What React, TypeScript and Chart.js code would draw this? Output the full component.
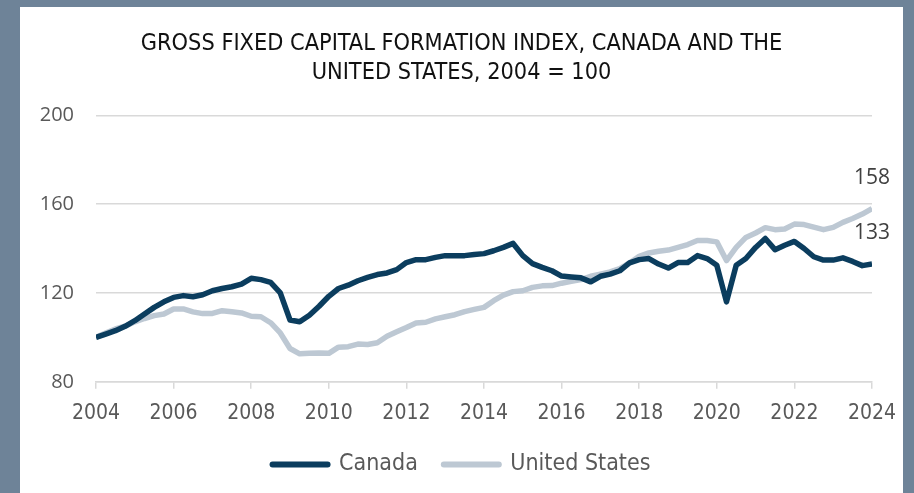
import React, { useEffect, useRef } from "react";
import { Chart, registerables } from "chart.js";

Chart.register(...registerables);

const START_YEAR = 2004;
const END_YEAR = 2024;

const titleLines = [
  "GROSS FIXED CAPITAL FORMATION INDEX, CANADA AND THE",
  "UNITED STATES, 2004 = 100",
];

const seriesNames = ["Canada", "United States"];

// Quarterly index values, 2004Q1 .. 2024Q1
const canada = [
  100, 101.5, 103, 105,
  107.5, 110.5, 113.5, 116,
  118, 118.8, 118.3, 119.2,
  121, 122, 122.8, 124,
  126.6, 126, 124.8, 120,
  107.8, 107, 110, 114,
  118.5, 122, 123.5, 125.5,
  127, 128.3, 129, 130.5,
  133.7, 135, 135, 136,
  136.8, 136.8, 136.8, 137.3,
  137.7, 139, 140.5, 142.3,
  136.8, 133.2, 131.5, 130,
  127.6, 127.2, 126.8, 125,
  127.5, 128.5, 130, 133.5,
  135, 135.5, 133, 131.2,
  133.7, 133.7, 136.8, 135.5,
  132.5, 116, 132.5, 135.5,
  140.5, 144.5, 139.5, 141.5,
  143.2, 140, 136.3, 134.8,
  134.8, 135.8, 134.2, 132.3,
  133,
];

const unitedStates = [
  100, 102, 103.8, 105,
  107, 108.5, 109.8, 110.5,
  112.8, 112.8, 111.5, 110.7,
  110.8, 112, 111.5, 111,
  109.5, 109.3, 106.6, 102,
  95, 92.6, 92.8, 93,
  92.8, 95.6, 95.8, 97,
  96.8, 97.6, 100.5, 102.5,
  104.4, 106.5, 106.8, 108.3,
  109.3, 110.2, 111.6, 112.6,
  113.5, 116.5, 119, 120.6,
  121, 122.5, 123.2, 123.3,
  124.4, 125.2, 126, 127.5,
  128.5, 129.5, 131, 133.5,
  136.5, 138, 138.8, 139.3,
  140.5, 141.8, 143.6, 143.6,
  143, 134.6, 140.5, 145,
  147, 149.4, 148.5, 148.8,
  151, 150.8, 149.6, 148.5,
  149.5, 151.8, 153.5, 155.5,
  158,
];

const yTicks = [80, 120, 160, 200];
const xTickStep = 2;

const seriesColors = ["#0B3D5E", "#BDC8D3"];

const COND = "'DejaVu Sans Condensed', 'Liberation Sans', Arial, sans-serif";

const toPoints = (vals: number[]) =>
  vals.map((v, i) => ({ x: START_YEAR + i / 4, y: v }));

const endLabelPlugin = {
  id: "endLabels",
  afterDatasetsDraw(chart: any) {
    const ctx = chart.ctx;
    ctx.save();
    ctx.font = "21px 'Open Sans', 'Liberation Sans', Arial, sans-serif";
    ctx.fillStyle = "#404040";
    ctx.textAlign = "center";
    ctx.textBaseline = "middle";
    chart.data.datasets.forEach((ds: any, i: number) => {
      const meta = chart.getDatasetMeta(i);
      const pt = meta.data[meta.data.length - 1];
      const val = ds.data[ds.data.length - 1].y;
      ctx.fillText(String(Math.round(val)), pt.x, pt.y - 31);
    });
    ctx.restore();
  },
};

export default function App() {
  const ref = useRef<HTMLCanvasElement | null>(null);

  useEffect(() => {
    if (!ref.current) return;
    const chart = new Chart(ref.current, {
      type: "line",
      data: {
        datasets: [
          {
            label: seriesNames[0],
            data: toPoints(canada),
            borderColor: seriesColors[0],
            backgroundColor: seriesColors[0],
            borderWidth: 5.5,
            pointRadius: 0,
            tension: 0,
            borderJoinStyle: "round",
          },
          {
            label: seriesNames[1],
            data: toPoints(unitedStates),
            borderColor: seriesColors[1],
            backgroundColor: seriesColors[1],
            borderWidth: 5.5,
            pointRadius: 0,
            tension: 0,
            borderJoinStyle: "round",
            order: 1,
          },
        ],
      },
      plugins: [endLabelPlugin],
      options: {
        animation: false,
        responsive: true,
        maintainAspectRatio: false,
        layout: { padding: { left: 0, right: 0, top: 0, bottom: 7 } },
        plugins: {
          title: {
            display: true,
            text: titleLines,
            color: "#111111",
            font: { family: COND, size: 23.3, weight: "normal", lineHeight: 1.25 },
            padding: { top: 22, bottom: 28 },
          },
          legend: {
            display: true,
            position: "bottom",
            labels: {
              usePointStyle: true,
              pointStyleWidth: 55,
              boxHeight: 6,
              padding: 26,
              color: "#595959",
              font: { family: COND, size: 23 },
              generateLabels: (c: any) =>
                c.data.datasets.map((ds: any, i: number) => ({
                  text: ds.label,
                  fillStyle: ds.borderColor,
                  strokeStyle: ds.borderColor,
                  lineWidth: 6,
                  lineCap: "round",
                  pointStyle: "line",
                  datasetIndex: i,
                  hidden: false,
                  fontColor: "#595959",
                })),
            },
          },
          tooltip: { enabled: false },
        },
        scales: {
          x: {
            type: "linear",
            min: START_YEAR,
            max: END_YEAR,
            afterFit: (scale: any) => {
              scale.paddingRight = 31;
              scale.height -= 11;
            },
            ticks: {
              stepSize: xTickStep,
              autoSkip: false,
              maxRotation: 0,
              color: "#595959",
              padding: 12,
              font: { family: COND, size: 21 },
              callback: (v: any) => String(v),
            },
            grid: {
              drawOnChartArea: false,
              drawTicks: true,
              tickLength: 7,
              color: "#D9D9D9",
              lineWidth: 1.5,
            },
            border: { display: true, color: "#D9D9D9", width: 1.5 },
          },
          y: {
            min: yTicks[0],
            max: yTicks[yTicks.length - 1],
            afterBuildTicks: (scale: any) => {
              scale.ticks = yTicks.map((v) => ({ value: v }));
            },
            afterFit: (scale: any) => {
              scale.width = 76;
            },
            ticks: {
              color: "#595959",
              padding: 22,
              font: { family: "'Open Sans', 'Liberation Sans', Arial, sans-serif", size: 20 },
            },
            grid: {
              drawTicks: false,
              color: "#D9D9D9",
              lineWidth: 1.5,
            },
            border: { display: false },
          },
        },
      },
    });
    return () => chart.destroy();
  }, []);

  return (
    <div style={{ position: "fixed", inset: 0, background: "#6E8398" }}>
      <div
        style={{
          position: "absolute",
          left: 20,
          top: 7,
          width: 883,
          height: 486,
          background: "#FFFFFF",
        }}
      >
        <canvas ref={ref} />
      </div>
    </div>
  );
}
